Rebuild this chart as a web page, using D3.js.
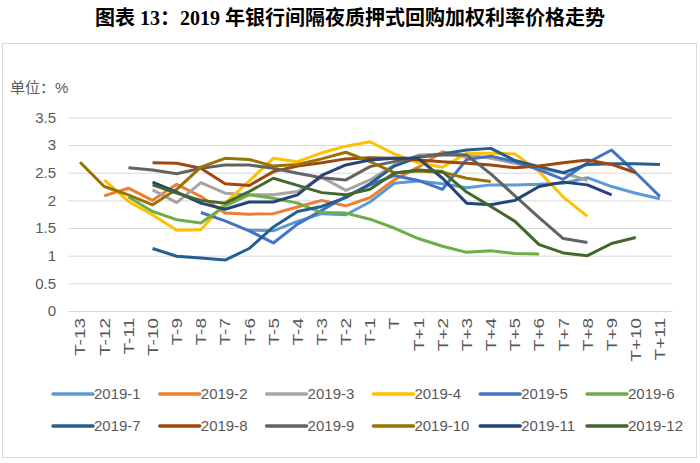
<!DOCTYPE html>
<html>
<head>
<meta charset="utf-8">
<script src="https://cdn.jsdelivr.net/npm/d3@7"></script>
<style>
  body { margin: 0; background: #fff; }
  text { font-family: "Liberation Sans", Arial, "Noto Sans CJK SC", sans-serif; }
</style>
</head>
<body>
<script>
var width = 700,
  height = 463,
  plotLeft = 68,
  plotRight = 672,
  plotTop = 117.4,
  plotBottom = 311;

var categories = ["T-13", "T-12", "T-11", "T-10", "T-9", "T-8", "T-7", "T-6", "T-5", "T-4", "T-3", "T-2", "T-1", "T",
  "T+1", "T+2", "T+3", "T+4", "T+5", "T+6", "T+7", "T+8", "T+9", "T+10", "T+11"];
var yTicks = [0, 0.5, 1, 1.5, 2, 2.5, 3, 3.5];
var seriesNames = ["2019-1", "2019-2", "2019-3", "2019-4", "2019-5", "2019-6",
  "2019-7", "2019-8", "2019-9", "2019-10", "2019-11", "2019-12"];
var colors = ["#5B9BD5", "#ED7D31", "#A5A5A5", "#FFC000", "#4472C4", "#70AD47",
  "#255E91", "#9E480E", "#636363", "#997300", "#264478", "#43682B"];

var s1 = [null, null, null, null, null, null, null, 1.46, 1.45, 1.62, 1.76, 1.74, 1.97, 2.31, 2.35, 2.3, 2.23, 2.28, 2.28, 2.29, 2.31, 2.41, 2.25, 2.13, 2.03];
var s2 = [null, 2.08, 2.22, 2.0, 2.29, 2.07, 1.77, 1.75, 1.76, 1.88, 2.0, 1.9, 2.05, 2.37, 2.6, 2.88, 2.78, null, null, null, null, null, null, null, null];
var s3 = [null, null, null, 2.19, 1.96, 2.32, 2.13, 2.1, 2.1, 2.16, 2.42, 2.18, 2.37, 2.64, 2.82, 2.84, 2.82, 2.76, 2.67, 2.58, 2.5, 2.36, null, null, null];
var s4 = [null, 2.37, 1.98, 1.74, 1.46, 1.47, 1.95, 2.35, 2.76, 2.7, 2.86, 2.98, 3.06, 2.84, 2.68, 2.6, 2.85, 2.85, 2.84, 2.52, 2.06, 1.71, null, null, null];
var s5 = [null, null, null, null, null, 1.78, 1.63, 1.45, 1.23, 1.57, 1.82, 2.07, 2.28, 2.45, 2.36, 2.2, 2.74, 2.8, 2.7, 2.55, 2.38, 2.68, 2.91, 2.5, 2.07];
var s6 = [null, null, 2.06, 1.8, 1.65, 1.59, 1.9, 2.1, 2.04, 1.95, 1.78, 1.77, 1.66, 1.5, 1.31, 1.17, 1.06, 1.09, 1.04, 1.03, null, null, null, null, null];
var s7 = [null, null, null, 1.13, 0.99, 0.96, 0.92, 1.13, 1.52, 1.8, 1.89, 2.05, 2.3, 2.62, 2.78, 2.84, 2.91, 2.94, 2.72, 2.61, 2.5, 2.65, 2.66, 2.66, 2.65];
var s8 = [null, null, null, 2.68, 2.67, 2.58, 2.3, 2.27, 2.52, 2.62, 2.68, 2.75, 2.77, 2.76, 2.73, 2.7, 2.67, 2.64, 2.59, 2.62, 2.68, 2.73, 2.65, 2.5, null];
var s9 = [null, null, 2.59, 2.55, 2.48, 2.58, 2.64, 2.64, 2.58, 2.49, 2.41, 2.37, 2.61, 2.7, 2.79, 2.82, 2.82, 2.48, 2.08, 1.69, 1.31, 1.24, null, null, null];
var s10 = [2.69, 2.25, 2.1, 1.92, 2.2, 2.6, 2.76, 2.74, 2.62, 2.65, 2.75, 2.87, 2.7, 2.5, 2.53, 2.51, 2.4, 2.34, null, null, null, null, null, null, null];
var s11 = [null, null, null, 2.33, 2.15, 1.95, 1.84, 1.97, 1.97, 2.1, 2.45, 2.64, 2.73, 2.76, 2.76, 2.4, 1.95, 1.92, 2.0, 2.25, 2.33, 2.28, 2.1, null, null];
var s12 = [null, null, null, 2.28, 2.13, 2.0, 1.95, 2.16, 2.4, 2.27, 2.14, 2.1, 2.2, 2.49, 2.55, 2.52, 2.15, 1.89, 1.62, 1.2, 1.05, 1.0, 1.22, 1.33, null];

var allSeries = [s1, s2, s3, s4, s5, s6, s7, s8, s9, s10, s11, s12];

var svg = d3.select("body")
  .append("svg")
  .attr("width", width)
  .attr("height", height);

// frame
svg.append("rect")
  .attr("x", 2.5)
  .attr("y", 43.5)
  .attr("width", 694)
  .attr("height", 414)
  .attr("fill", "#fff")
  .attr("stroke", "#d9d9d9");

// title
svg.append("text")
  .attr("x", width / 2)
  .attr("y", 25)
  .attr("text-anchor", "middle")
  .style("font-family", "'Liberation Serif', 'Noto Sans CJK SC', serif")
  .style("font-weight", "bold")
  .style("font-size", "20px")
  .attr("fill", "#000")
  .text("图表 13：2019 年银行间隔夜质押式回购加权利率价格走势");

svg.append("text")
  .attr("x", 10)
  .attr("y", 93)
  .style("font-size", "15px")
  .attr("fill", "#595959")
  .text("单位：%");

//----------scales----------
var x = d3.scaleBand()
  .domain(categories)
  .range([plotLeft, plotRight]);

var y = d3.scaleLinear()
  .domain([0, 3.5])
  .range([plotBottom, plotTop]);

//----------Y axis + grid----------
var yAxis = d3.axisLeft(y)
  .tickValues(yTicks)
  .tickSize(-(plotRight - plotLeft))
  .tickPadding(12)
  .tickFormat(function (d) { return d; });

var gy = svg.append("g")
  .attr("transform", "translate(" + plotLeft + ",0)")
  .call(yAxis);
gy.select(".domain").remove();
gy.selectAll(".tick line").attr("stroke", "#d9d9d9");
gy.selectAll(".tick text")
  .attr("fill", "#595959")
  .style("font-size", "15px");

//----------X axis----------
var xAxis = d3.axisBottom(x).tickSize(0);

var gx = svg.append("g")
  .attr("transform", "translate(0," + plotBottom + ")")
  .call(xAxis);
gx.select(".domain").attr("stroke", "#d9d9d9");
// labels are long and thin in the original, so squeeze the glyph height
gx.selectAll(".tick text")
  .attr("fill", "#595959")
  .style("font-size", "19px")
  .attr("transform", "rotate(-90) scale(1,0.8)")
  .attr("text-anchor", "end")
  .attr("x", -7)
  .attr("y", 0)
  .attr("dy", "0.35em");

//----------Lines----------
var line = d3.line()
  .defined(function (d) { return d != null; })
  .x(function (d, i) { return x(categories[i]) + x.bandwidth() / 2; })
  .y(function (d) { return y(d); });

svg.selectAll(".series")
  .data(allSeries)
  .enter()
  .append("path")
  .attr("class", "series")
  .attr("fill", "none")
  .attr("stroke", function (d, i) { return colors[i]; })
  .attr("stroke-width", 3)
  .attr("stroke-linejoin", "round")
  .attr("d", line);

//----------Legend----------
var legend = svg.selectAll(".legend")
  .data(seriesNames)
  .enter()
  .append("g")
  .attr("class", "legend")
  .attr("transform", function (d, i) {
    return "translate(" + (53 + (i % 6) * 106.8) + "," + (394 + Math.floor(i / 6) * 32) + ")";
  });

legend.append("line")
  .attr("x1", 0)
  .attr("x2", 40)
  .attr("stroke", function (d, i) { return colors[i]; })
  .attr("stroke-width", 3.5)
  .attr("stroke-linecap", "round");

legend.append("text")
  .attr("x", 41)
  .attr("dy", "0.35em")
  .attr("fill", "#595959")
  .style("font-size", "15px")
  .text(function (d) { return d; });
</script>
</body>
</html>
